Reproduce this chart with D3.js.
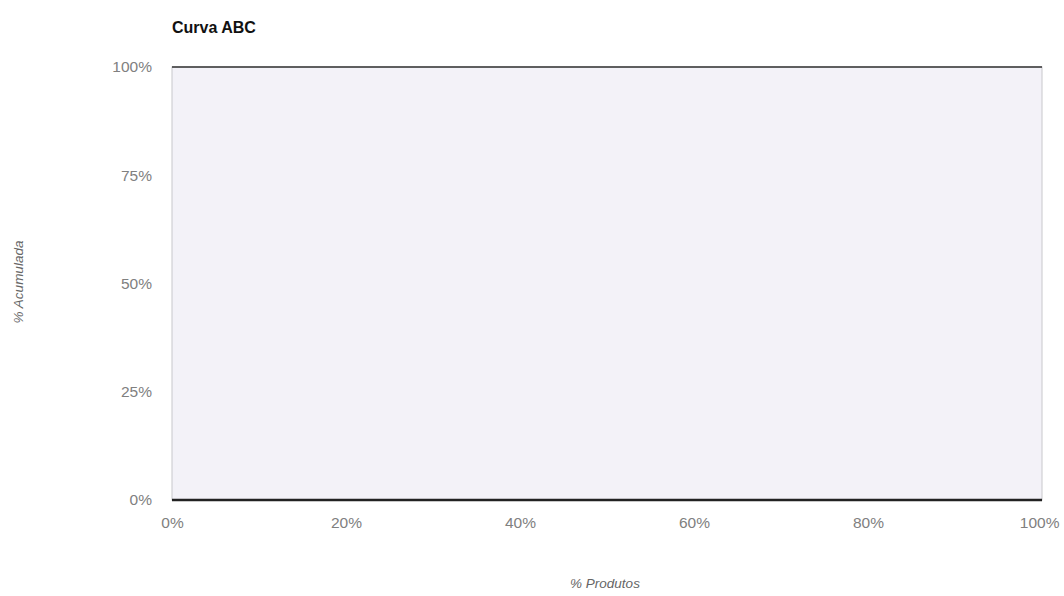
<!DOCTYPE html>
<html>
<head>
<meta charset="utf-8">
<script src="https://cdn.jsdelivr.net/npm/d3@7"></script>
<style>
  body { margin: 0; background: #fff; }
  text { font-family: "Liberation Sans", Arial, sans-serif; }
</style>
</head>
<body>
<div id="chart"></div>
<script>
const title = "Curva ABC";
const xLabel = "% Produtos";
const yLabel = "% Acumulada";
const xTicks = [0, 0.2, 0.4, 0.6, 0.8, 1];
const yTicks = [0, 0.25, 0.5, 0.75, 1];
// the curve itself is empty in the reference
const pctProdutos = [];
const pctAcumulada = [];

const width = 1064;
const height = 596;
const margin = { top: 67, right: 22, bottom: 96, left: 172 };
const innerWidth = width - margin.left - margin.right;
const innerHeight = height - margin.top - margin.bottom;

const svg = d3
  .select("#chart")
  .append("svg")
  .attr("width", width)
  .attr("height", height);

const g = svg
  .append("g")
  .attr("transform", `translate(${margin.left},${margin.top})`);

const x = d3.scaleLinear().domain([0, 1]).range([0, innerWidth]);
const y = d3.scaleLinear().domain([0, 1]).range([innerHeight, 0]);
const fmt = d3.format(".0%");

// plot background
g.append("rect")
  .attr("width", innerWidth)
  .attr("height", innerHeight)
  .attr("fill", "#f3f2f8")
  .attr("stroke", "#c8c8cc")
  .attr("stroke-width", 1);

// top and bottom borders are darker
g.append("line")
  .attr("x1", 0).attr("x2", innerWidth)
  .attr("y1", 0).attr("y2", 0)
  .attr("stroke", "#333").attr("stroke-width", 1.5);

g.append("line")
  .attr("x1", 0).attr("x2", innerWidth)
  .attr("y1", innerHeight).attr("y2", innerHeight)
  .attr("stroke", "#222").attr("stroke-width", 2.5);

// y axis
const yAxis = g
  .append("g")
  .attr("transform", "translate(-20,0)")
  .call(d3.axisLeft(y).tickValues(yTicks).tickFormat(fmt).tickSize(0).tickPadding(0));
yAxis.select(".domain").remove();
yAxis.selectAll("text")
  .attr("fill", "#808080")
  .attr("font-size", 15.5);

// x axis
const xAxis = g
  .append("g")
  .attr("transform", `translate(0,${innerHeight})`)
  .call(d3.axisBottom(x).tickValues(xTicks).tickFormat(fmt).tickSize(0).tickPadding(17));
xAxis.select(".domain").remove();
xAxis.selectAll("text")
  .attr("fill", "#808080")
  .attr("font-size", 15.5);
// keep the last label inside the window
xAxis.selectAll("text").filter((d) => d === 1)
  .attr("text-anchor", "end")
  .attr("dx", 17);

// curve (no points in the reference)
g.append("path")
  .datum(pctProdutos.map((d, i) => [d, pctAcumulada[i]]))
  .attr("fill", "none")
  .attr("stroke", "#333")
  .attr("d", d3.line().x((d) => x(d[0])).y((d) => y(d[1])));

// titles
svg.append("text")
  .attr("x", 172)
  .attr("y", 33)
  .attr("font-size", 16)
  .attr("font-weight", "bold")
  .attr("fill", "#111")
  .text(title);

svg.append("text")
  .attr("x", 605)
  .attr("y", 588)
  .attr("text-anchor", "middle")
  .attr("font-size", 13.5)
  .attr("font-style", "italic")
  .attr("fill", "#666")
  .text(xLabel);

svg.append("text")
  .attr("transform", `translate(23,282) rotate(-90)`)
  .attr("text-anchor", "middle")
  .attr("font-size", 13.5)
  .attr("font-style", "italic")
  .attr("fill", "#666")
  .text(yLabel);
</script>
</body>
</html>
